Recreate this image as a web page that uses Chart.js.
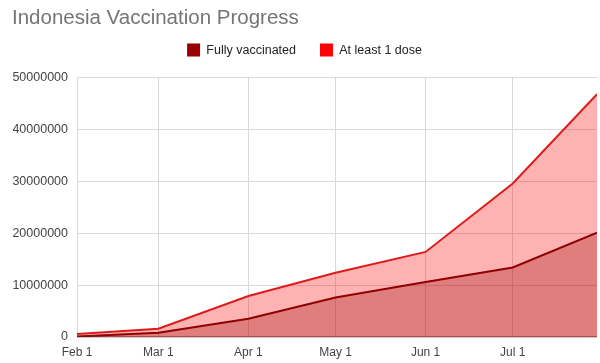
<!DOCTYPE html>
<html>
<head>
<meta charset="utf-8">
<script src="https://cdn.jsdelivr.net/npm/chart.js@4/dist/chart.umd.min.js"></script>
<style>
body{margin:0;background:#fff;}
#wrap{width:600px;height:363px;}
</style>
</head>
<body>
<div id="wrap"><canvas id="vaxChart"></canvas></div>
<script>

// days since Feb 1 2021 for every data point
let dayIndex = [0, 28, 59, 89, 120, 150, 179];

let fullyVaccinated = [100000, 800000, 3500000, 7600000, 10600000, 13400000, 20100000];
let atLeastOneDose = [600000, 1600000, 7900000, 12400000, 16400000, 29600000, 46800000];

let tickDays = [0, 28, 59, 89, 120, 150];
let tickLabels = ["Feb 1", "Mar 1", "Apr 1", "May 1", "Jun 1", "Jul 1"];

let legendColors = ["#990000", "#ff0000"];

function toPoints(values){
return values.map((v,i)=>({x:dayIndex[i], y:v}));
}

Chart.defaults.font.family = "'Liberation Sans', Arial, sans-serif";

/* the wide label padding pushes the legend row down, pull it back up */
let legendLift = {
id:"legendLift",
afterLayout(chart){
chart.legend.top -= 11;
chart.legend.bottom -= 11;
}
};

new Chart(document.getElementById("vaxChart"),{

type:"line",

data:{
datasets:[
{
label:"Fully vaccinated",
data:toPoints(fullyVaccinated),
borderColor:"#8f0000",
backgroundColor:"rgba(153,0,0,0.3)",
borderWidth:2,
pointRadius:0,
fill:"origin"
},
{
label:"At least 1 dose",
data:toPoints(atLeastOneDose),
borderColor:"#dc1c1c",
backgroundColor:"rgba(255,0,0,0.3)",
borderWidth:2,
pointRadius:0,
fill:"origin"
}
]
},

options:{
responsive:true,
maintainAspectRatio:false,
animation:false,
layout:{padding:{left:12, right:3, top:0, bottom:0}},
plugins:{
title:{
display:true,
text:"Indonesia Vaccination Progress",
align:"start",
color:"#757575",
font:{size:20.5, weight:"normal"},
padding:{top:6, bottom:0}
},
legend:{
labels:{
boxWidth:13,
boxHeight:13,
padding:24,
color:"#222",
font:{size:12.5},
generateLabels(chart){
let items = Chart.defaults.plugins.legend.labels.generateLabels(chart);
items.forEach((it,i)=>{
it.fillStyle = legendColors[i];
it.strokeStyle = legendColors[i];
it.lineWidth = 0;
});
return items;
}
}
},
tooltip:{enabled:false}
},
scales:{
x:{
type:"linear",
min:0,
max:179,
afterBuildTicks(scale){
scale.ticks = tickDays.map(d=>({value:d}));
},
afterFit(scale){
scale.height = 26;
},
ticks:{
color:"#444",
font:{size:12},
padding:8,
maxRotation:0,
callback:(v,i)=>tickLabels[i]
},
grid:{color:"#d9d9d9", drawTicks:false},
border:{display:false}
},
y:{
min:0,
max:50000000,
afterFit(scale){
scale.width = 65;
},
ticks:{
stepSize:10000000,
color:"#444",
font:{size:12.5},
padding:9,
callback:v=>String(v)
},
grid:{
drawTicks:false,
color:ctx=>ctx.tick.value===0 ? "#9a9a9a" : "#d9d9d9",
lineWidth:ctx=>ctx.tick.value===0 ? 1.5 : 1
},
border:{display:false}
}
}
},

plugins:[legendLift]

});

</script>
</body>
</html>
